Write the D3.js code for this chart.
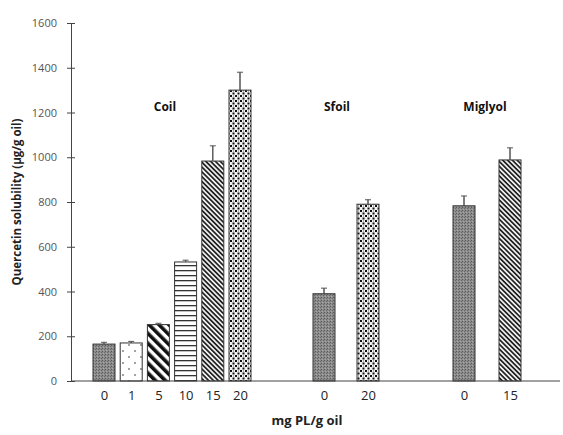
<!DOCTYPE html>
<html><head><meta charset="utf-8">
<script src="https://cdn.jsdelivr.net/npm/d3@7"></script>
<style>body{margin:0;background:#fff}svg{display:block}</style>
</head><body>
<script>
// ---- data ----
const groups = ["Coil", "Sfoil", "Miglyol"];
const coilLevels = ["0", "1", "5", "10", "15", "20"];
const coilValues = [165, 170, 252, 532, 983, 1300];
const coilErrors = [8, 7, 6, 8, 68, 80];
const sfoilLevels = ["0", "20"];
const sfoilValues = [390, 790];
const sfoilErrors = [25, 20];
const miglyolLevels = ["0", "15"];
const miglyolValues = [783, 988];
const miglyolErrors = [44, 54];
const coilPatterns = ["stipple", "sparse", "wide", "horiz", "dense", "confetti"];
const sfoilPatterns = ["stipple", "confetti"];
const miglyolPatterns = ["stipple", "dense"];
const yTicks = [0, 200, 400, 600, 800, 1000, 1200, 1400, 1600];

const W = 563, H = 435;
const svg = d3.select("body").append("svg").attr("width", W).attr("height", H);
const defs = svg.append("defs");

// patterns
function pat(id, w, h, transform) {
  const p = defs.append("pattern").attr("id", id).attr("patternUnits", "userSpaceOnUse")
    .attr("width", w).attr("height", h);
  if (transform) p.attr("patternTransform", transform);
  return p;
}
let p = pat("stipple", 3, 3);
p.append("rect").attr("width", 3).attr("height", 3).attr("fill", "#8c8c8c");
p.append("rect").attr("width", 1).attr("height", 1).attr("fill", "#5a5a5a");
p.append("rect").attr("x", 2).attr("y", 1).attr("width", 1).attr("height", 1).attr("fill", "#6a6a6a");
p.append("rect").attr("x", 1).attr("y", 2).attr("width", 1).attr("height", 1).attr("fill", "#a8a8a8");
p = pat("sparse", 12, 12);
p.append("rect").attr("width", 12).attr("height", 12).attr("fill", "#fff");
p.append("circle").attr("cx", 3).attr("cy", 3).attr("r", 0.9).attr("fill", "#777");
p.append("circle").attr("cx", 9).attr("cy", 9).attr("r", 0.9).attr("fill", "#777");
p = pat("wide", 7, 7, "rotate(-45)");
p.append("rect").attr("width", 7).attr("height", 7).attr("fill", "#fff");
p.append("rect").attr("width", 3.6).attr("height", 7).attr("fill", "#111");
p = pat("horiz", 5, 5);
p.append("rect").attr("width", 5).attr("height", 5).attr("fill", "#fff");
p.append("rect").attr("y", 0).attr("width", 5).attr("height", 1.3).attr("fill", "#333");
p = pat("dense", 3.4, 3.4, "rotate(-45)");
p.append("rect").attr("width", 3.4).attr("height", 3.4).attr("fill", "#eee");
p.append("rect").attr("width", 1.7).attr("height", 3.4).attr("fill", "#222");
p = pat("confetti", 5, 5);
p.append("rect").attr("width", 5).attr("height", 5).attr("fill", "#f2f2f2");
p.append("rect").attr("x", 0).attr("y", 0).attr("width", 2).attr("height", 2).attr("fill", "#111");
p.append("rect").attr("x", 2.5).attr("y", 2.5).attr("width", 2).attr("height", 2).attr("fill", "#111");
p.append("rect").attr("x", 3).attr("y", 0.5).attr("width", 1).attr("height", 1).attr("fill", "#777");

// scales
const y = d3.scaleLinear().domain([0, 1600]).range([381, 23]);
const xAxisX0 = 71, xAxisX1 = 560;
const groupData = [
  {name: groups[0], levels: coilLevels, values: coilValues, errors: coilErrors, pats: coilPatterns, range: [104, 240], labelX: 165},
  {name: groups[1], levels: sfoilLevels, values: sfoilValues, errors: sfoilErrors, pats: sfoilPatterns, range: [324, 368], labelX: 337},
  {name: groups[2], levels: miglyolLevels, values: miglyolValues, errors: miglyolErrors, pats: miglyolPatterns, range: [464, 510], labelX: 485}
];
const barW = 22;
const font = "'Open Sans', 'Noto Sans', sans-serif";

// y axis
const yAxis = d3.axisLeft(y).tickValues(yTicks).tickFormat(d3.format("d")).tickSize(4).tickSizeOuter(0).tickPadding(10);
const ya = svg.append("g").attr("transform", `translate(${xAxisX0},0)`).call(yAxis);
ya.select(".domain").attr("stroke", "#444");
ya.selectAll(".tick line").attr("stroke", "#444").attr("x2", 4).attr("x1", -4);
ya.selectAll(".tick text").attr("font-family", font).attr("font-size", 11).attr("fill", "#555");

// bars
groupData.forEach(g => {
  const xs = d3.scalePoint().domain(g.levels).range(g.range);
  const rows = g.levels.map((l, i) => ({l, v: g.values[i], e: g.errors[i], p: g.pats[i]}));
  const gg = svg.append("g");
  gg.selectAll("line.err").data(rows).join("line")
    .attr("x1", d => xs(d.l)).attr("x2", d => xs(d.l))
    .attr("y1", d => y(d.v - d.e)).attr("y2", d => y(d.v + d.e))
    .attr("stroke", "#555").attr("stroke-width", 1);
  gg.selectAll("rect.bar").data(rows).join("rect")
    .attr("x", d => xs(d.l) - barW / 2).attr("width", barW)
    .attr("y", d => y(d.v)).attr("height", d => y(0) - y(d.v))
    .attr("fill", d => `url(#${d.p})`).attr("stroke", "#333").attr("stroke-width", 1);
  gg.selectAll("line.up").data(rows).join("line")
    .attr("x1", d => xs(d.l)).attr("x2", d => xs(d.l))
    .attr("y1", d => y(d.v)).attr("y2", d => y(d.v + d.e))
    .attr("stroke", "#555").attr("stroke-width", 1);
  gg.selectAll("line.cap").data(rows).join("line")
    .attr("x1", d => xs(d.l) - 3).attr("x2", d => xs(d.l) + 3)
    .attr("y1", d => y(d.v + d.e)).attr("y2", d => y(d.v + d.e))
    .attr("stroke", "#555").attr("stroke-width", 1);
  const xa = d3.axisBottom(xs).tickSize(0).tickPadding(10);
  const xg = svg.append("g").attr("transform", `translate(0,${y(0)})`).call(xa);
  xg.select(".domain").remove();
  xg.selectAll(".tick text").attr("font-family", font).attr("font-size", 13).attr("fill", "#222");
  svg.append("text").attr("x", g.labelX).attr("y", 111).attr("text-anchor", "middle")
    .attr("font-family", font).attr("font-weight", "bold").attr("font-size", 12).attr("fill", "#111")
    .text(g.name);
});

// x axis line
svg.append("line").attr("x1", xAxisX0).attr("x2", xAxisX1).attr("y1", y(0)).attr("y2", y(0))
  .attr("stroke", "#444").attr("stroke-width", 1.2);

// axis titles
svg.append("text").attr("x", 307).attr("y", 425).attr("text-anchor", "middle")
  .attr("font-family", font).attr("font-weight", "bold").attr("font-size", 13).attr("fill", "#222")
  .text("mg PL/g oil");
svg.append("text").attr("transform", "translate(21,202) rotate(-90)").attr("text-anchor", "middle")
  .attr("font-family", font).attr("font-weight", "bold").attr("font-size", 11.5).attr("fill", "#222")
  .text("Quercetin solubility (µg/g oil)");
</script>
</body></html>
